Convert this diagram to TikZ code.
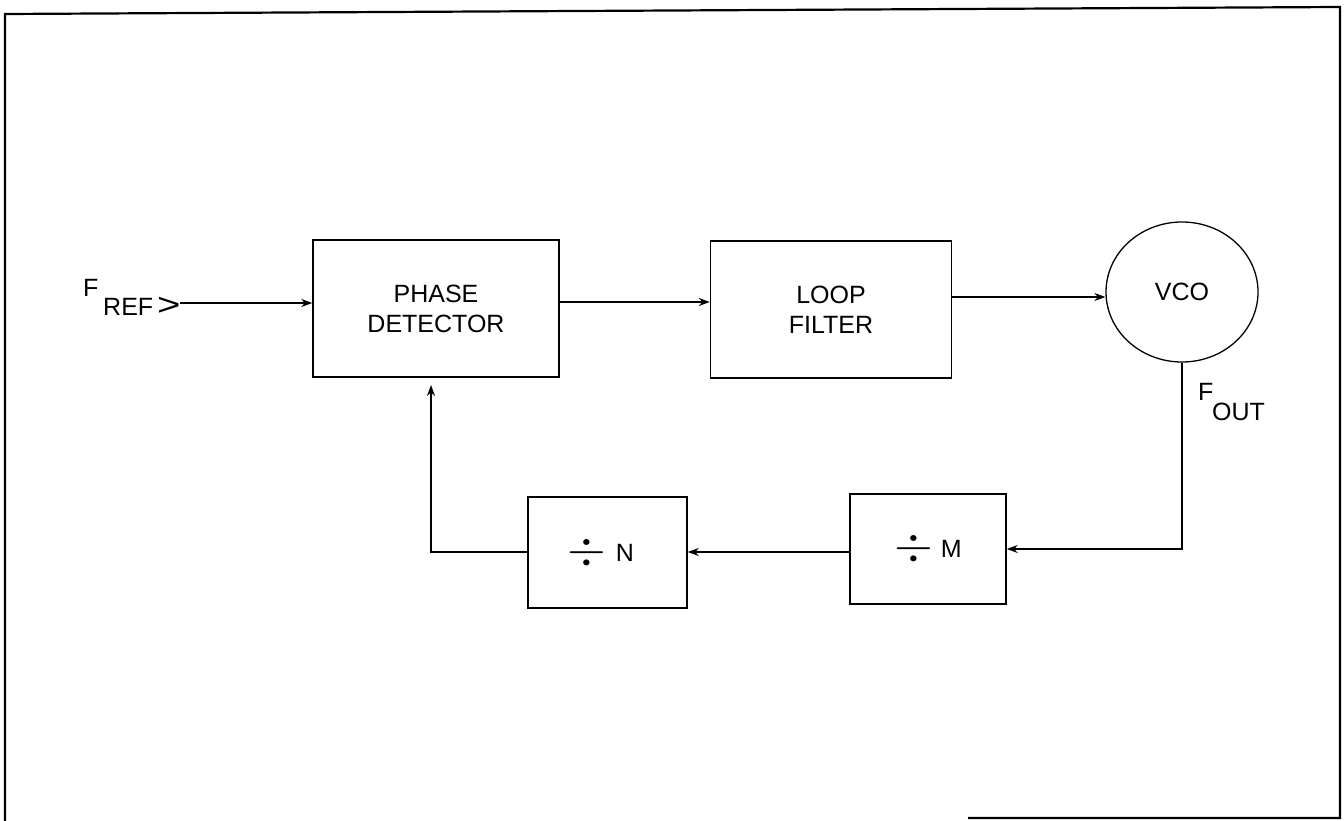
\documentclass[tikz,border=0pt]{standalone}
\usepackage{fontspec}
\setmainfont{Liberation Sans}
\usetikzlibrary{arrows.meta,shapes.geometric}
\newcommand{\bigdiv}{\raisebox{-3pt}{\scalebox{2}[1.9]{$\div$}}}
\begin{document}
\begin{tikzpicture}[x=1pt,y=-1pt,
  blk/.style={draw,line width=1.5pt,rectangle,inner sep=0pt,align=center,
    font=\fontsize{25}{30}\selectfont},
  lbl/.style={inner sep=0pt,anchor=base west,font=\fontsize{25}{30}\selectfont},
  conn/.style={line width=1.3pt},
  arr/.style={conn,-{Stealth[length=11pt,width=8pt]}},
  frame/.style={line width=2.2pt}]
\useasboundingbox (0,0) rectangle (1344,821);
% frame
\coordinate (tl) at (5,14);
\coordinate (tr) at (1340,7);
\coordinate (bl) at (5,821);
\coordinate (br) at (1340,818);
\coordinate (bm) at (968,818);
\draw[frame] (bl) -- (tl) -- (tr) -- (br) -- (bm);
% blocks
\node[blk,minimum width=246pt,minimum height=137pt] (pd) at (436,308.5) {PHASE\\DETECTOR};
\node[blk,minimum width=241pt,minimum height=137pt] (lf) at (831,309.5) {LOOP\\FILTER};
\node[blk,ellipse,minimum width=152pt,minimum height=140pt,line width=1.3pt] (vco) at (1182,292) {VCO};
\node[blk,minimum width=156pt,minimum height=110pt] (dm) at (928,549) {\bigdiv\hspace{8pt}M};
\node[blk,minimum width=159pt,minimum height=111pt] (dn) at (607.5,552.5) {\bigdiv\hspace{10pt}N\hspace*{14pt}};
% labels
\node[lbl] (fref) at (83,296) {F};
\node[lbl] (frefs) at (103,315) {REF\hspace{4pt}\scalebox{1.6}[1.25]{>}};
\node[lbl] (fout) at (1198,400) {F};
\node[lbl] (fouts) at (1212,420) {OUT};
% rows
\coordinate (fin) at (180,303);
\coordinate (r1) at (0,302);
\coordinate (r2) at (0,297);
\coordinate (r3) at (0,549);
\coordinate (r4) at (0,552);
\coordinate (fb) at (431,385);
% connectors
\draw[arr] (fin) -- (fin -| pd.west);
\draw[arr] (pd.east |- r1) -- (lf.west |- r1);
\draw[arr] (lf.east |- r2) -- (vco.west |- r2);
\draw[arr] (vco.south) -- (vco.south |- r3) -- (dm.east |- r3);
\draw[arr] (dm.west |- r4) -- (dn.east |- r4);
\draw[arr] (dn.west |- r4) -| (fb);
\end{tikzpicture}
\end{document}
